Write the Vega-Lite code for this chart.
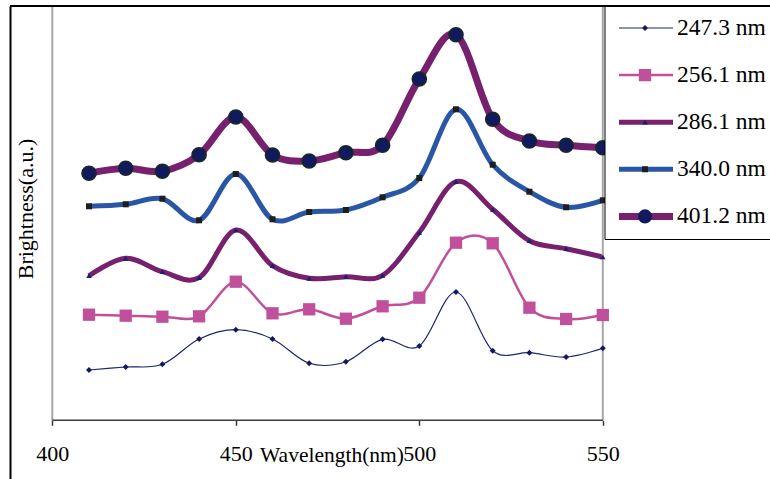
{
  "$schema": "https://vega.github.io/schema/vega-lite/v6.json",
  "autosize": {"type": "none"},
  "width": 760,
  "height": 473,
  "padding": {"left": 10, "top": 6, "right": 0, "bottom": 0},
  "background": "white",
  "config": {"view": {"stroke": null}, "font": "Liberation Serif"},
  "data": {"values": [
    {"wavelength": 410, "series": "247.3 nm", "brightness": 50.3},
    {"wavelength": 420, "series": "247.3 nm", "brightness": 53.3},
    {"wavelength": 430, "series": "247.3 nm", "brightness": 56.0},
    {"wavelength": 440, "series": "247.3 nm", "brightness": 81.3},
    {"wavelength": 450, "series": "247.3 nm", "brightness": 90.6},
    {"wavelength": 460, "series": "247.3 nm", "brightness": 81.3},
    {"wavelength": 470, "series": "247.3 nm", "brightness": 57.0},
    {"wavelength": 480, "series": "247.3 nm", "brightness": 58.6},
    {"wavelength": 490, "series": "247.3 nm", "brightness": 81.0},
    {"wavelength": 500, "series": "247.3 nm", "brightness": 74.3},
    {"wavelength": 510, "series": "247.3 nm", "brightness": 128.3},
    {"wavelength": 520, "series": "247.3 nm", "brightness": 69.6},
    {"wavelength": 530, "series": "247.3 nm", "brightness": 67.6},
    {"wavelength": 540, "series": "247.3 nm", "brightness": 63.3},
    {"wavelength": 550, "series": "247.3 nm", "brightness": 72.0},
    {"wavelength": 410, "series": "256.1 nm", "brightness": 105.6},
    {"wavelength": 420, "series": "256.1 nm", "brightness": 104.6},
    {"wavelength": 430, "series": "256.1 nm", "brightness": 103.6},
    {"wavelength": 440, "series": "256.1 nm", "brightness": 104.0},
    {"wavelength": 450, "series": "256.1 nm", "brightness": 138.6},
    {"wavelength": 460, "series": "256.1 nm", "brightness": 107.0},
    {"wavelength": 470, "series": "256.1 nm", "brightness": 111.0},
    {"wavelength": 480, "series": "256.1 nm", "brightness": 101.6},
    {"wavelength": 490, "series": "256.1 nm", "brightness": 114.0},
    {"wavelength": 500, "series": "256.1 nm", "brightness": 122.6},
    {"wavelength": 510, "series": "256.1 nm", "brightness": 177.6},
    {"wavelength": 520, "series": "256.1 nm", "brightness": 177.0},
    {"wavelength": 530, "series": "256.1 nm", "brightness": 112.6},
    {"wavelength": 540, "series": "256.1 nm", "brightness": 101.3},
    {"wavelength": 550, "series": "256.1 nm", "brightness": 105.3},
    {"wavelength": 410, "series": "286.1 nm", "brightness": 144.6},
    {"wavelength": 420, "series": "286.1 nm", "brightness": 162.0},
    {"wavelength": 430, "series": "286.1 nm", "brightness": 148.6},
    {"wavelength": 440, "series": "286.1 nm", "brightness": 142.6},
    {"wavelength": 450, "series": "286.1 nm", "brightness": 190.3},
    {"wavelength": 460, "series": "286.1 nm", "brightness": 154.6},
    {"wavelength": 470, "series": "286.1 nm", "brightness": 142.0},
    {"wavelength": 480, "series": "286.1 nm", "brightness": 143.6},
    {"wavelength": 490, "series": "286.1 nm", "brightness": 145.0},
    {"wavelength": 500, "series": "286.1 nm", "brightness": 188.0},
    {"wavelength": 510, "series": "286.1 nm", "brightness": 238.6},
    {"wavelength": 520, "series": "286.1 nm", "brightness": 211.0},
    {"wavelength": 530, "series": "286.1 nm", "brightness": 179.6},
    {"wavelength": 540, "series": "286.1 nm", "brightness": 171.6},
    {"wavelength": 550, "series": "286.1 nm", "brightness": 163.3},
    {"wavelength": 410, "series": "340.0 nm", "brightness": 214.0},
    {"wavelength": 420, "series": "340.0 nm", "brightness": 216.0},
    {"wavelength": 430, "series": "340.0 nm", "brightness": 221.6},
    {"wavelength": 440, "series": "340.0 nm", "brightness": 200.0},
    {"wavelength": 450, "series": "340.0 nm", "brightness": 246.3},
    {"wavelength": 460, "series": "340.0 nm", "brightness": 201.0},
    {"wavelength": 470, "series": "340.0 nm", "brightness": 208.3},
    {"wavelength": 480, "series": "340.0 nm", "brightness": 210.3},
    {"wavelength": 490, "series": "340.0 nm", "brightness": 223.0},
    {"wavelength": 500, "series": "340.0 nm", "brightness": 242.3},
    {"wavelength": 510, "series": "340.0 nm", "brightness": 311.0},
    {"wavelength": 520, "series": "340.0 nm", "brightness": 255.6},
    {"wavelength": 530, "series": "340.0 nm", "brightness": 228.6},
    {"wavelength": 540, "series": "340.0 nm", "brightness": 213.0},
    {"wavelength": 550, "series": "340.0 nm", "brightness": 220.0},
    {"wavelength": 410, "series": "401.2 nm", "brightness": 247.1},
    {"wavelength": 420, "series": "401.2 nm", "brightness": 252.0},
    {"wavelength": 430, "series": "401.2 nm", "brightness": 249.1},
    {"wavelength": 440, "series": "401.2 nm", "brightness": 265.5},
    {"wavelength": 450, "series": "401.2 nm", "brightness": 303.3},
    {"wavelength": 460, "series": "401.2 nm", "brightness": 265.3},
    {"wavelength": 470, "series": "401.2 nm", "brightness": 259.3},
    {"wavelength": 480, "series": "401.2 nm", "brightness": 267.6},
    {"wavelength": 490, "series": "401.2 nm", "brightness": 275.0},
    {"wavelength": 500, "series": "401.2 nm", "brightness": 341.3},
    {"wavelength": 510, "series": "401.2 nm", "brightness": 385.6},
    {"wavelength": 520, "series": "401.2 nm", "brightness": 301.0},
    {"wavelength": 530, "series": "401.2 nm", "brightness": 279.3},
    {"wavelength": 540, "series": "401.2 nm", "brightness": 275.0},
    {"wavelength": 550, "series": "401.2 nm", "brightness": 272.6}
  ]},
  "layer": [
    {
      "mark": {"type": "line", "interpolate": "cardinal"},
      "encoding": {
        "x": {
          "field": "wavelength", "type": "quantitative",
          "scale": {"domain": [388.474, 595.558], "nice": false, "zero": false},
          "axis": {
            "orient": "bottom", "offset": -58.7, "values": [400, 450, 500, 550],
            "domain": false, "grid": false, "ticks": true, "tickSize": 5, "tickWidth": 1.5, "tickColor": "#3a3a3a",
            "labelFont": "Liberation Serif", "labelFontSize": 22, "labelColor": "black",
            "labelBaseline": "alphabetic", "labelPadding": 35, "format": "d",
            "title": "Wavelength(nm)", "titleFont": "Liberation Serif", "titleFontSize": 21.5,
            "titleFontWeight": "normal", "titleColor": "black", "titleX": 321.5, "titleY": 41,
            "titleBaseline": "alphabetic", "titleAlign": "center"
          }
        },
        "y": {
          "field": "brightness", "type": "quantitative",
          "scale": {"domain": [-58.7, 414.3], "nice": false, "zero": false},
          "axis": {
            "orient": "left", "domain": true, "domainColor": "black", "domainWidth": 2,
            "ticks": false, "labels": false, "grid": false,
            "title": "Brightness(a.u.)", "titleFont": "Liberation Serif", "titleFontSize": 22,
            "titleFontWeight": "normal", "titleColor": "black", "titleAngle": 270,
            "titleX": 22.5, "titleY": 202.5, "titleBaseline": "alphabetic", "titleAlign": "center"
          }
        },
        "stroke": {
          "field": "series", "type": "nominal",
          "scale": {"range": ["#1c2570", "#c0509c", "#76206e", "#2957a6", "#76206e"]},
          "legend": {
            "orient": "none", "legendX": 594.5, "legendY": 0, "title": null,
            "padding": 11, "rowPadding": 23.1, "clipHeight": 22, "labelFont": "Liberation Serif", "labelFontSize": 23.5,
            "labelColor": "black", "symbolType": "stroke", "symbolSize": 2916, "labelOffset": 0.5,
            "strokeColor": "black", "fillColor": "white", "symbolOffset": 0
          }
        },
        "strokeWidth": {
          "field": "series", "type": "nominal",
          "scale": {"type": "ordinal", "range": [1.2, 2.5, 5, 5, 7]},
          "legend": {
            "orient": "none", "legendX": 594.5, "legendY": 0, "title": null,
            "padding": 11, "rowPadding": 23.1, "clipHeight": 22, "labelFont": "Liberation Serif", "labelFontSize": 23.5,
            "labelColor": "black", "symbolType": "stroke", "symbolSize": 2916, "labelOffset": 0.5,
            "strokeColor": "black", "fillColor": "white", "symbolOffset": 0
          }
        }
      }
    },
    {
      "data": {"values": [{}]},
      "mark": {"type": "rule", "color": "#a6a6a6", "strokeWidth": 2},
      "encoding": {
        "x": {"datum": 400, "type": "quantitative"},
        "y": {"datum": 0, "type": "quantitative"},
        "y2": {"datum": 414.3}
      }
    },
    {
      "data": {"values": [{}]},
      "mark": {"type": "rule", "color": "#a6a6a6", "strokeWidth": 2},
      "encoding": {
        "x": {"datum": 550, "type": "quantitative"},
        "y": {"datum": 0, "type": "quantitative"},
        "y2": {"datum": 414.3}
      }
    },
    {
      "data": {"values": [{}]},
      "mark": {"type": "rule", "color": "#000000", "strokeWidth": 2},
      "encoding": {
        "x": {"datum": 388.474, "type": "quantitative"},
        "x2": {"datum": 595.558},
        "y": {"datum": 414.3, "type": "quantitative"}
      }
    },
    {
      "data": {"values": [{}]},
      "mark": {"type": "rule", "color": "#3a3a3a", "strokeWidth": 1.5},
      "encoding": {
        "x": {"datum": 400, "type": "quantitative"},
        "x2": {"datum": 550},
        "y": {"datum": 0, "type": "quantitative"}
      }
    },
    {
      "mark": {"type": "point", "filled": true, "opacity": 1, "strokeWidth": 0},
      "encoding": {
        "x": {"field": "wavelength", "type": "quantitative"},
        "y": {"field": "brightness", "type": "quantitative"},
        "fill": {
          "field": "series", "type": "nominal",
          "scale": {"domain": ["247.3 nm", "256.1 nm", "286.1 nm", "340.0 nm", "401.2 nm"],
                    "range": ["#111a5e", "#c0509c", "#1a1f70", "#1e1e1e", "#111a5e"]},
          "legend": {
            "orient": "none", "legendX": 594.5, "legendY": 0, "title": null,
            "padding": 11, "rowPadding": 23.1, "clipHeight": 22, "labelFont": "Liberation Serif", "labelFontSize": 23.5,
            "labelExpr": "''", "symbolOffset": 17.75,
            "encode": {"symbols": {"update": {"stroke": {"value": "#1b2a1e"}, "strokeWidth": {"signal": "datum.value === '401.2 nm' ? 1.5 : 0"}}}}
          }
        },
        "shape": {
          "field": "series", "type": "nominal",
          "scale": {"domain": ["247.3 nm", "256.1 nm", "286.1 nm", "340.0 nm", "401.2 nm"],
                    "range": ["diamond", "square", "triangle-up", "square", "circle"]},
          "legend": {
            "orient": "none", "legendX": 594.5, "legendY": 0, "title": null,
            "padding": 11, "rowPadding": 23.1, "clipHeight": 22, "labelFont": "Liberation Serif", "labelFontSize": 23.5,
            "labelExpr": "''", "symbolOffset": 17.75,
            "encode": {"symbols": {"update": {"stroke": {"value": "#1b2a1e"}, "strokeWidth": {"signal": "datum.value === '401.2 nm' ? 1.5 : 0"}}}}
          }
        },
        "size": {
          "field": "series", "type": "nominal",
          "scale": {"type": "ordinal", "domain": ["247.3 nm", "256.1 nm", "286.1 nm", "340.0 nm", "401.2 nm"],
                    "range": [36, 151, 30, 36, 200]},
          "legend": {
            "orient": "none", "legendX": 594.5, "legendY": 0, "title": null,
            "padding": 11, "rowPadding": 23.1, "clipHeight": 22, "labelFont": "Liberation Serif", "labelFontSize": 23.5,
            "labelExpr": "''", "symbolOffset": 17.75,
            "encode": {"symbols": {"update": {"stroke": {"value": "#1b2a1e"}, "strokeWidth": {"signal": "datum.value === '401.2 nm' ? 1.5 : 0"}}}}
          }
        }
      }
    },
    {
      "transform": [{"filter": "datum.series === '401.2 nm'"}],
      "mark": {"type": "point", "shape": "circle", "filled": false, "size": 200, "stroke": "#1b2a1e", "strokeWidth": 1.5, "opacity": 1},
      "encoding": {
        "x": {"field": "wavelength", "type": "quantitative"},
        "y": {"field": "brightness", "type": "quantitative"}
      }
    }
  ]
}
